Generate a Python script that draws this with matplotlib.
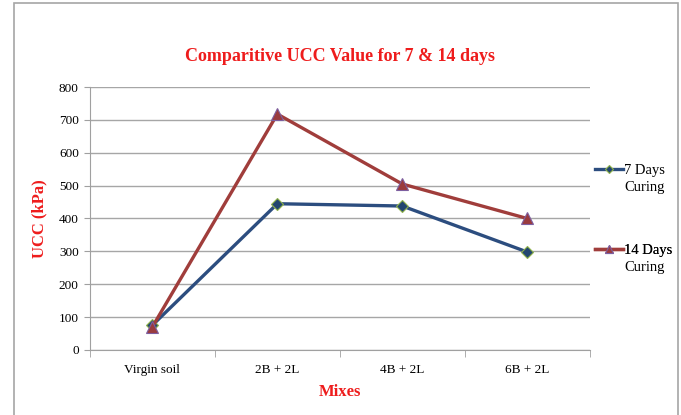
import matplotlib
matplotlib.use("Agg")
import matplotlib.pyplot as plt
from matplotlib.patches import Rectangle

plt.rcParams['font.family'] = ['Liberation Serif', 'DejaVu Serif']

mixes = ['Virgin soil', '2B + 2L', '4B + 2L', '6B + 2L']
ucc_7 = [75, 445, 438, 298]
ucc_14 = [70, 718, 505, 400]

fig = plt.figure(figsize=(6.81, 4.15), dpi=100)
ax = fig.add_axes([0.132, 0.157, 0.734, 0.633])

# outer chart frame
fig.patches.append(Rectangle((0.021, -0.05), 0.975, 1.043, transform=fig.transFigure,
                             fill=False, edgecolor='#a6a6a6', linewidth=1.2))

x = range(len(mixes))
l7, = ax.plot(x, ucc_7, color='#2c4d7f', lw=2.4, marker='D', ms=6,
              markerfacecolor='#23466f', markeredgecolor='#8fb24a', mew=0.8,
              label='7 Days', zorder=3)
l14, = ax.plot(x, ucc_14, color='#a03d3b', lw=2.4, marker='^', ms=8.5,
               markerfacecolor='#9a3b3e', markeredgecolor='#7d5fa0', mew=0.8,
               label='14 Days', zorder=3)

ax.set_ylim(0, 800)
ax.set_yticks(range(0, 801, 100))
ax.set_xlim(-0.5, 3.5)
ax.set_xticks(list(x))
ax.set_xticklabels(mixes)
ax.set_xticks([-0.5, 0.5, 1.5, 2.5, 3.5], minor=True)
ax.tick_params(axis='x', which='major', length=0, pad=10, labelsize=9.5)
ax.tick_params(axis='x', which='minor', length=5, color='#a0a0a0', direction='out')
ax.tick_params(axis='y', length=4, color='#a0a0a0', labelsize=9.5, pad=4)
ax.grid(axis='y', color='#a6a6a6', lw=1)
ax.set_axisbelow(True)
for s in ['top', 'right']:
    ax.spines[s].set_visible(False)
for s in ['left', 'bottom']:
    ax.spines[s].set_color('#a0a0a0')

ax.set_title('Comparitive UCC Value for 7 & 14 days', color='#ee1c1c',
             fontsize=13, fontweight='bold', pad=19)
ax.set_xlabel('Mixes', color='#ee1c1c', fontsize=12, fontweight='bold', labelpad=6)
ax.set_ylabel('UCC (kPa)', color='#ee1c1c', fontsize=12, fontweight='bold', labelpad=8)

# legend: one entry per series, second line "Curing" under the label
legs = []
for line, ypos in [(l7, 0.684), (l14, 0.38)]:
    leg = ax.legend(handles=[line], loc='center left', bbox_to_anchor=(1.005, ypos),
                    frameon=False, fontsize=10.5, handlelength=1.9, markerscale=0.75,
                    handletextpad=0.1, borderaxespad=0.2, borderpad=0)
    ax.add_artist(leg)
    legs.append(leg)
for leg in legs:
    ax.annotate('Curing', xy=(0, 0), xycoords=leg.get_texts()[0],
                xytext=(0, -3), textcoords='offset points',
                ha='left', va='top', fontsize=10.5, zorder=10,
                annotation_clip=False)

fig.savefig('out.png', dpi=100)
